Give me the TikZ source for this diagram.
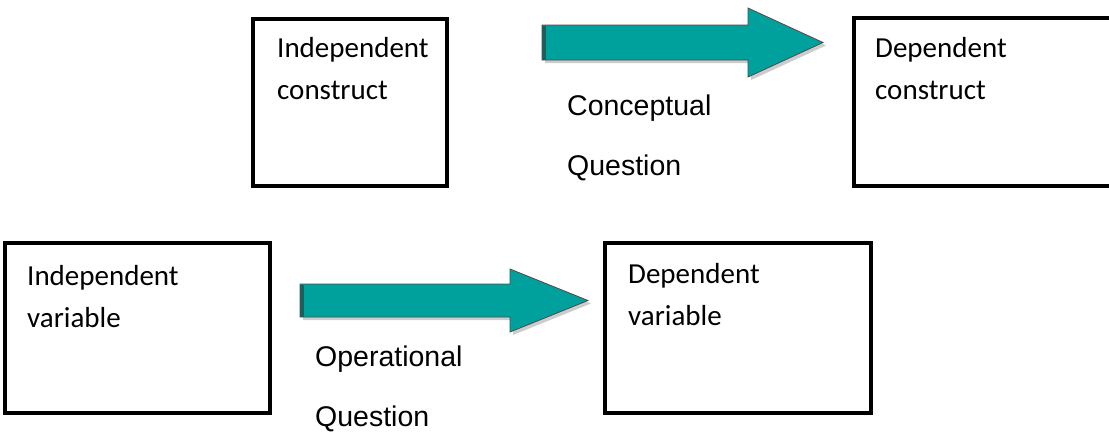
\documentclass[tikz,border=0pt]{standalone}
\usepackage{fontspec}
\newfontfamily\calfont{Carlito}
\newfontfamily\arifont{Liberation Sans}
\definecolor{teal1}{RGB}{0,160,156}
\definecolor{tealdark}{RGB}{40,90,88}
\begin{document}
\begin{tikzpicture}[x=1pt,y=-1pt,
  box/.style={draw=black,line width=3.5pt,inner sep=0pt},
  boxtxt/.style={anchor=base west,inner sep=0pt,font=\calfont\fontsize{29}{42}\selectfont,align=left},
  qtxt/.style={anchor=base west,inner sep=0pt,font=\arifont\fontsize{28.5}{60}\selectfont,align=left},
  blockarrow/.style={fill=teal1,draw=gray!60!black,line width=0.8pt,line join=miter}]
\useasboundingbox (0,0) rectangle (1109,432);
% boxes
\node[box,minimum width=194pt,minimum height=167pt] (ic) at (350,102.5) {};
\node[box,minimum width=262pt,minimum height=168pt] (dc) at (985,102) {};
\node[box,minimum width=265pt,minimum height=170pt] (iv) at (137.5,328) {};
\node[box,minimum width=266pt,minimum height=170pt] (dv) at (738,328) {};
% texts (anchored at the baseline of the last line)
\node[boxtxt] (t1) at (277,99) {Independent\\construct};
\node[boxtxt] (t2) at (875,99) {Dependent\\construct};
\node[boxtxt] (t3) at (27,327) {Independent\\variable};
\node[boxtxt] (t4) at (628,325) {Dependent\\variable};
\node[qtxt] (q1) at (567,175) {Conceptual\\Question};
\node[qtxt] (q2) at (315,426) {Operational\\Question};
% arrows
\fill[gray!40] (545,28) -- (751,28) -- (751,11) -- (826,45.5) -- (751,80) -- (751,63) -- (545,63) -- cycle;
\draw[blockarrow] (542,25) -- (748,25) -- (748,8) -- (823,42.5) -- (748,77) -- (748,60) -- (542,60) -- cycle;
\fill[tealdark] (542,25.5) rectangle (546,59.5);
\fill[gray!40] (303,287) -- (513,287) -- (513,272) -- (591,303.5) -- (513,335) -- (513,320) -- (303,320) -- cycle;
\draw[blockarrow] (300,284) -- (510,284) -- (510,269) -- (588,300.5) -- (510,332) -- (510,317) -- (300,317) -- cycle;
\fill[tealdark] (300,284.5) rectangle (304,316.5);
\end{tikzpicture}
\end{document}
